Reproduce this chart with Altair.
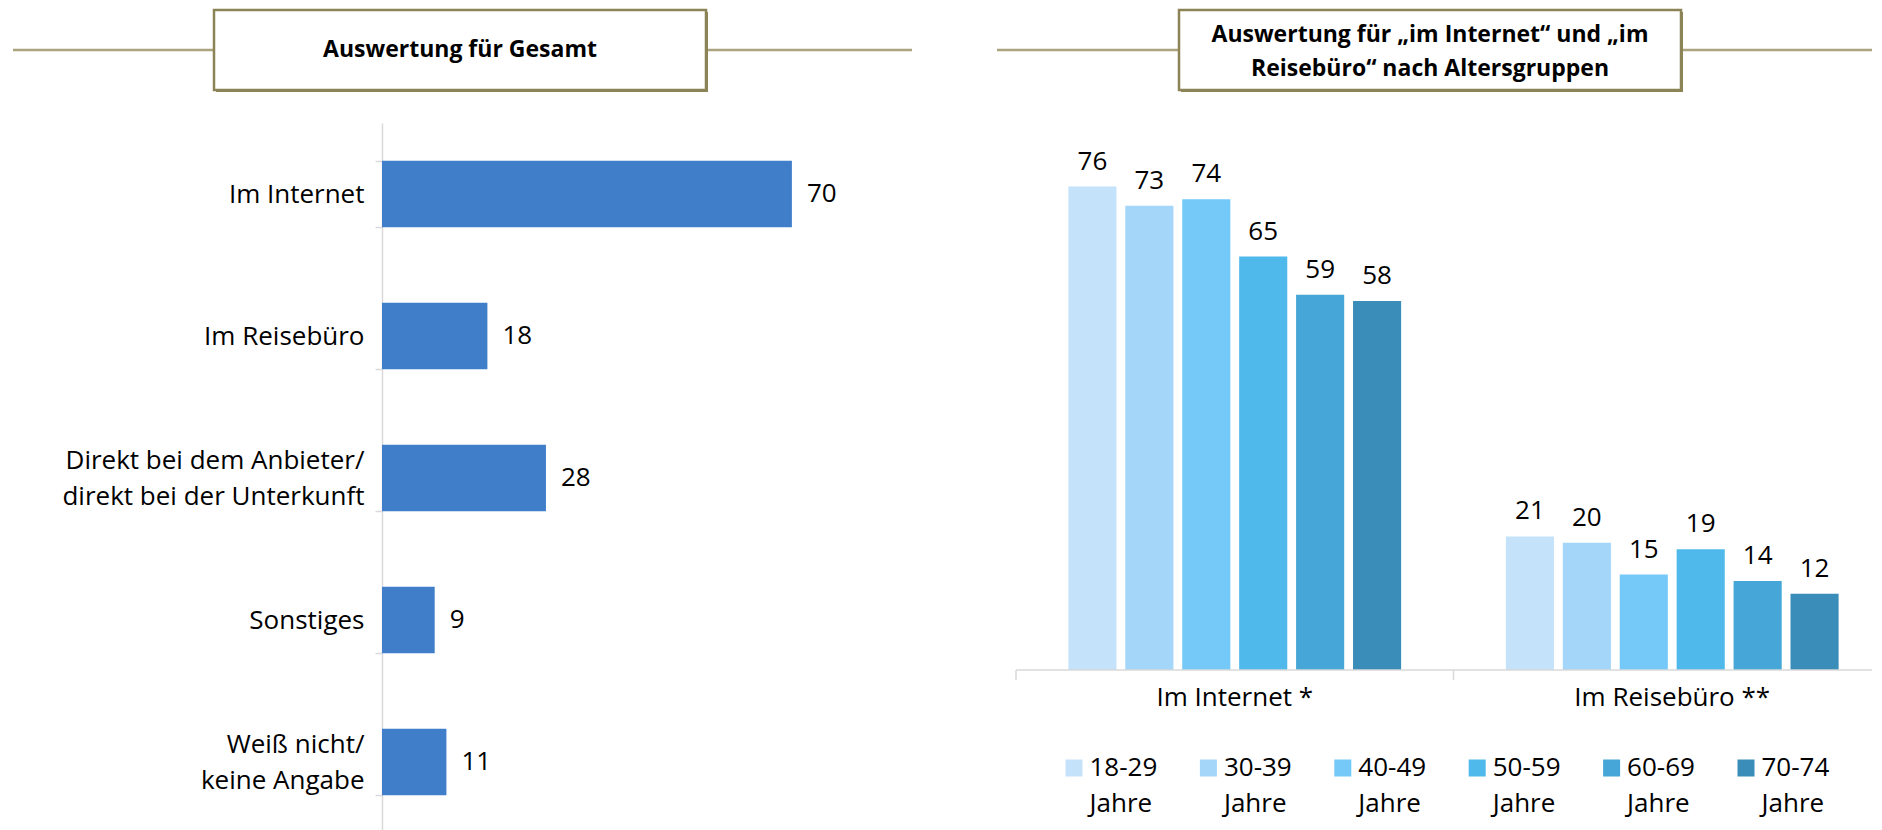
import altair as alt
import pandas as pd

FONT = "Open Sans"

# ---------------- data ----------------
left_categories = [
    "Im Internet",
    "Im Reisebüro",
    "Direkt bei dem Anbieter/|direkt bei der Unterkunft",
    "Sonstiges",
    "Weiß nicht/|keine Angabe",
]
left_values = [70, 18, 28, 9, 11]

groups = ["Im Internet *", "Im Reisebüro **"]
age_groups = ["18-29 Jahre", "30-39 Jahre", "40-49 Jahre", "50-59 Jahre", "60-69 Jahre", "70-74 Jahre"]
internet_values = [76, 73, 74, 65, 59, 58]
reisebuero_values = [21, 20, 15, 19, 14, 12]
age_colors = ["#c4e3fa", "#a3d6f8", "#74c9f8", "#4fb9eb", "#45a6d7", "#3b8db9"]

left_title = ["Auswertung für Gesamt"]
right_title = ["Auswertung für „im Internet“ und „im", "Reisebüro“ nach Altersgruppen"]

BAR_BLUE = "#417ec9"
LINE_COLOR = "#aaa37d"
BOX_COLOR = "#8c8456"
AXIS_GRAY = "#d9d9d9"
FS = 26

left_df = pd.DataFrame({"kategorie": left_categories, "wert": left_values})
right_df = pd.DataFrame({
    "gruppe": [g for g in groups for _ in age_groups],
    "alter": age_groups * 2,
    "wert": internet_values + reisebuero_values,
})
legend_df = pd.DataFrame({"alter": age_groups})
group_df = pd.DataFrame({"gruppe": groups})

LW, LH = 527, 710
RW, RH = 856, 547
BAND_RANGE = [0, 875]   # full extent of the two category bands (runs past the page edge)


def decoration(title_lines, line_x, line_y, box_x, box_y, text_x, text_ys):
    d = pd.DataFrame({"t": [" ".join(title_lines)]})
    line = alt.Chart(d).mark_rule(color=LINE_COLOR, strokeWidth=2.5).encode(
        x=alt.value(line_x[0]), x2=alt.value(line_x[1]), y=alt.value(line_y)
    )
    shadow = alt.Chart(d).mark_rect(fill=BOX_COLOR).encode(
        x=alt.value(box_x[0] + 2), x2=alt.value(box_x[1] + 2),
        y=alt.value(box_y[0] + 2), y2=alt.value(box_y[1] + 2),
    )
    box = alt.Chart(d).mark_rect(fill="white", stroke=BOX_COLOR, strokeWidth=2.5).encode(
        x=alt.value(box_x[0]), x2=alt.value(box_x[1]),
        y=alt.value(box_y[0]), y2=alt.value(box_y[1]),
    )
    layers = [line, shadow, box]
    for txt_line, ty in zip(title_lines, text_ys):
        td = pd.DataFrame({"t": [txt_line]})
        layers.append(alt.Chart(td).mark_text(
            font=FONT, fontSize=23, fontWeight="bold", color="#000000",
            align="center", baseline="middle",
        ).encode(x=alt.value(text_x), y=alt.value(ty), text="t:N"))
    return layers


# ---------------- left chart ----------------
y_left = alt.Y(
    "kategorie:N", sort=left_categories, title=None,
    scale=alt.Scale(paddingInner=0.53, paddingOuter=0.265),
    axis=alt.Axis(
        labelExpr="split(datum.label, '|')", labelFontSize=FS, labelFont=FONT,
        labelColor="#000000", labelLineHeight=36, labelPadding=11, labelLimit=500,
        labelOffset={"condition": {"test": "indexof(datum.label, '|') >= 0", "value": -18}, "value": 0},
        tickSize=7, tickColor=AXIS_GRAY, tickWidth=1.5, tickBand="extent",
        domainColor=AXIS_GRAY, domainWidth=1.5,
    ),
)
x_left = alt.X("wert:Q", scale=alt.Scale(domain=[0, 90], nice=False), axis=None)

bars_left = alt.Chart(left_df).mark_bar(color=BAR_BLUE).encode(y=y_left, x=x_left)
text_left = alt.Chart(left_df).mark_text(
    align="left", baseline="middle", dx=15, fontSize=FS, font=FONT, color="#000000"
).encode(y=alt.Y("kategorie:N", sort=left_categories), x=x_left, text="wert:Q")

left = alt.layer(
    *decoration(left_title, (-369, 530), -73, (-168, 324), (-113, -33), 78, [-73]),
    bars_left, text_left,
).properties(width=LW, height=LH)

# ---------------- right chart ----------------
x_scale = alt.Scale(range=BAND_RANGE, paddingInner=0, paddingOuter=0)
xoff = alt.XOffset("alter:N", sort=age_groups, scale=alt.Scale(paddingInner=0.155, paddingOuter=0.92))
y_right = alt.Y("wert:Q", scale=alt.Scale(domain=[0, 86.0], nice=False), axis=None)
color = alt.Color("alter:N", sort=age_groups,
                  scale=alt.Scale(domain=age_groups, range=age_colors), legend=None)

bars_right = alt.Chart(right_df).mark_bar().encode(
    x=alt.X("gruppe:N", sort=groups, title=None, scale=x_scale, axis=None),
    xOffset=xoff, y=y_right, color=color,
)
text_right = alt.Chart(right_df).mark_text(
    baseline="alphabetic", dy=-17, fontSize=FS, font=FONT, color="#000000"
).encode(
    x=alt.X("gruppe:N", sort=groups, title=None, scale=x_scale, axis=None),
    xOffset=xoff, y=y_right, text="wert:Q",
)

# category axis drawn from the same band scale
baseline_rule = alt.Chart(group_df.head(1)).mark_rule(color=AXIS_GRAY, strokeWidth=1.5).encode(
    x=alt.value(0), x2=alt.value(RW), y=alt.value(RH)
)
tick_rules = alt.Chart(group_df).mark_rule(color=AXIS_GRAY, strokeWidth=1.5).encode(
    x=alt.X("gruppe:N", sort=groups, scale=x_scale, axis=None, bandPosition=0),
    y=alt.value(RH), y2=alt.value(RH + 10),
)
group_labels = alt.Chart(group_df).mark_text(
    baseline="middle", align="center", fontSize=FS, font=FONT, color="#000000"
).encode(
    x=alt.X("gruppe:N", sort=groups, scale=x_scale, axis=None, bandPosition=0.5),
    y=alt.value(RH + 28), text="gruppe:N",
)

leg_x = alt.X("alter:N", sort=age_groups,
              scale=alt.Scale(type="point", range=[58, 730], padding=0), axis=None)
leg_sq = alt.Chart(legend_df).mark_square(size=289, opacity=1).encode(
    x=leg_x, y=alt.value(645), color=color
)
leg_base = alt.Chart(legend_df).transform_calculate(
    l1="split(datum.alter, ' ')[0]", l2="split(datum.alter, ' ')[1]"
)
leg_t1 = leg_base.mark_text(align="left", baseline="middle", dx=15.5, fontSize=FS,
                            font=FONT, color="#000000").encode(
    x=leg_x, y=alt.value(645), text="l1:N")
leg_t2 = leg_base.mark_text(align="left", baseline="middle", dx=15.5, fontSize=FS,
                            font=FONT, color="#000000").encode(
    x=leg_x, y=alt.value(681), text="l2:N")

right = alt.layer(
    *decoration(right_title, (-19, RW), -73, (163, 665), (-113, -33), 414, [-88, -54]),
    bars_right, text_right, baseline_rule, tick_rules, group_labels,
    leg_sq, leg_t1, leg_t2,
).resolve_scale(x="independent").properties(width=RW, height=RH)

chart = alt.hconcat(left, right, spacing=81).properties(
    padding={"left": 3, "top": 0, "right": 0, "bottom": 0}
).configure(font=FONT).configure_view(stroke=None)

chart.save("out.html", embed_options={"renderer": "svg", "actions": False})
